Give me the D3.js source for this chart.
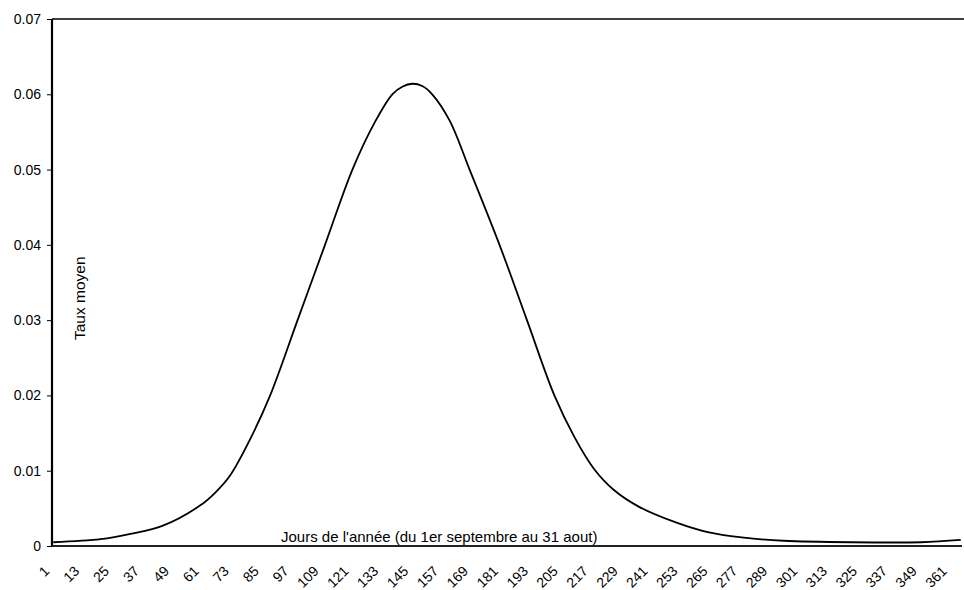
<!DOCTYPE html>
<html lang="fr">
<head>
<meta charset="utf-8">
<title>Taux moyen</title>
<script src="https://d3js.org/d3.v7.min.js"></script>
<style>
  body { margin: 0; background: #fff; }
  svg text { font-family: "Liberation Sans", Arial, sans-serif; fill: #000; }
</style>
</head>
<body>
<svg id="chart" width="964" height="590"></svg>
<script>
// days of the year (category axis) and the labelled ones
var nDays = 365;
var tickDays = [1, 13, 25, 37, 49, 61, 73, 85, 97, 109, 121, 133, 145, 157, 169, 181,
                193, 205, 217, 229, 241, 253, 265, 277, 289, 301, 313, 325, 337, 349, 361];
var yTicks = [0, 0.01, 0.02, 0.03, 0.04, 0.05, 0.06, 0.07];

// curve
var curveDays   = [1, 20, 32, 45, 60, 66, 72, 80, 88, 99, 110, 121, 130, 137, 141, 145,
                   149, 153, 160, 168, 180, 191, 202, 210, 218, 226, 236, 251, 264, 278,
                   294, 321, 349, 365];
var curveValues = [0.0005, 0.0009, 0.0016, 0.0027, 0.0054, 0.0071, 0.0094, 0.0142, 0.0200,
                   0.0300, 0.0400, 0.0500, 0.0563, 0.0600, 0.0610, 0.0614,
                   0.0611, 0.0600, 0.0565, 0.0500, 0.0400, 0.0300, 0.0200, 0.0145,
                   0.0102, 0.0074, 0.0052, 0.0031, 0.0018, 0.0011,
                   0.0007, 0.0005, 0.0005, 0.0008];

var svg = d3.select('#chart');
var mLeft = 52, mRight = 962, mTop = 19, mBottom = 546;

var x = d3.scaleBand()
    .domain(d3.range(1, nDays + 1))
    .range([mLeft, mRight]);
var y = d3.scaleLinear()
    .domain([0, 0.07])
    .range([mBottom, mTop]);

// top border
svg.append('line')
    .attr('x1', mLeft).attr('x2', 964)
    .attr('y1', mTop).attr('y2', mTop)
    .attr('stroke', '#000').attr('stroke-width', 1.5);

// y axis
var yAxis = d3.axisLeft(y)
    .tickValues(yTicks)
    .tickSize(5)
    .tickPadding(6)
    .tickFormat(function(d) { return d === 0 ? '0' : d.toFixed(2); });
var gy = svg.append('g')
    .attr('transform', 'translate(' + mLeft + ',0)')
    .call(yAxis);
gy.select('.domain').remove();
gy.selectAll('.tick line').attr('stroke', '#000');
gy.selectAll('.tick text')
    .style('font-size', '14px')
    .style('font-family', '"Liberation Sans", Arial, sans-serif');
svg.append('line')
    .attr('x1', mLeft).attr('x2', mLeft)
    .attr('y1', mTop).attr('y2', mBottom)
    .attr('stroke', '#000').attr('stroke-width', 2.2);

// x axis
svg.append('line')
    .attr('x1', mLeft).attr('x2', mRight)
    .attr('y1', mBottom).attr('y2', mBottom)
    .attr('stroke', '#222').attr('stroke-width', 2);

svg.append('g').selectAll('text')
    .data(tickDays)
    .join('text')
    .attr('transform', function(d) {
        return 'translate(' + (x(d) + x.bandwidth() / 2 - 3) + ',' + (mBottom + 26) + ') rotate(-45)';
    })
    .attr('text-anchor', 'end')
    .style('font-size', '14px')
    .text(function(d) { return d; });

// curve
var pts = curveDays.map(function(d, i) { return [d, curveValues[i]]; });
var line = d3.line()
    .x(function(p) { return x(p[0]) + x.bandwidth() / 2; })
    .y(function(p) { return y(p[1]); })
    .curve(d3.curveCatmullRom.alpha(0.5));
svg.append('path')
    .datum(pts)
    .attr('d', line)
    .attr('fill', 'none')
    .attr('stroke', '#000')
    .attr('stroke-width', 1.8);

// axis titles, inside the plot
svg.append('text')
    .attr('x', 281).attr('y', mBottom - 4)
    .style('font-size', '15px')
    .text("Jours de l'année (du 1er septembre au 31 aout)");

svg.append('text')
    .attr('transform', 'translate(85,340) rotate(-90)')
    .style('font-size', '15.5px')
    .text('Taux moyen');
</script>
</body>
</html>
